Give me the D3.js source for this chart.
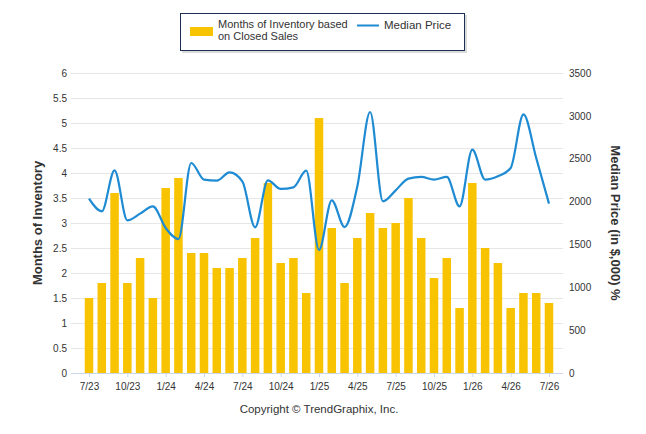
<!DOCTYPE html>
<html><head><meta charset="utf-8">
<script src="https://cdn.jsdelivr.net/npm/d3@7"></script>
<style>body{margin:0;background:#fff}svg{display:block}</style>
</head><body><div id="c"></div>
<script>
const months = ["7/23","8/23","9/23","10/23","11/23","12/23","1/24","2/24","3/24","4/24","5/24","6/24","7/24","8/24","9/24","10/24","11/24","12/24","1/25","2/25","3/25","4/25","5/25","6/25","7/25","8/25","9/25","10/25","11/25","12/25","1/26","2/26","3/26","4/26","5/26","6/26","7/26"];
const inventory = [1.5,1.8,3.6,1.8,2.3,1.5,3.7,3.9,2.4,2.4,2.1,2.1,2.3,2.7,3.8,2.2,2.3,1.6,5.1,2.9,1.8,2.7,3.2,2.9,3.0,3.5,2.7,1.9,2.3,1.3,3.8,2.5,2.2,1.3,1.6,1.6,1.4];
const medianPrice = [2034,1886,2364,1781,1859,1944,1692,1563,2450,2256,2244,2341,2236,1700,2248,2147,2166,2360,1435,2014,1703,2178,3045,2003,2131,2268,2287,2256,2287,1944,2606,2256,2295,2392,3018,2508,1976];
const leftTicks = [0,0.5,1,1.5,2,2.5,3,3.5,4,4.5,5,5.5,6];
const rightTicks = [0,500,1000,1500,2000,2500,3000,3500];
const xTickLabels = ["7/23","10/23","1/24","4/24","7/24","10/24","1/25","4/25","7/25","10/25","1/26","4/26","7/26"];

const W=646,H=434;
const svg=d3.select("#c").append("svg").attr("width",W).attr("height",H);
const plotL=71, plotR=563, plotTop=73, plotBottom=373;
const font="Tahoma, 'Liberation Sans', Arial, sans-serif";

const x=d3.scalePoint().domain(months).range([89,549]);
const yL=d3.scaleLinear().domain([0,6]).range([plotBottom,plotTop]);
const yR=d3.scaleLinear().domain([0,3500]).range([plotBottom,plotTop]);

// grid
svg.append("g").selectAll("line").data(leftTicks.slice(1)).join("line")
  .attr("x1",plotL).attr("x2",plotR).attr("y1",d=>yL(d)+0.5).attr("y2",d=>yL(d)+0.5)
  .attr("stroke","#e6e6e6").attr("stroke-width",1);

// bars
const bw=8.5;
svg.append("g").selectAll("rect").data(inventory).join("rect")
  .attr("x",(d,i)=>x(months[i])-bw/2).attr("width",bw)
  .attr("y",d=>yL(d)).attr("height",d=>plotBottom-yL(d))
  .attr("fill","#f8c300");

// x axis
svg.append("line").attr("x1",plotL).attr("x2",plotR).attr("y1",plotBottom+0.5).attr("y2",plotBottom+0.5).attr("stroke","#ccd6eb");
const xa=d3.axisBottom(x).tickValues(xTickLabels).tickSize(4).tickPadding(4);
const gx=svg.append("g").attr("transform",`translate(0,${plotBottom})`).call(xa);
gx.select(".domain").remove();
gx.selectAll("line").attr("stroke","#ccd6eb");
gx.selectAll("text").attr("font-family",font).attr("font-size",10).attr("fill","#333").attr("dy","0.9em");

// left axis
const ga=svg.append("g").attr("transform",`translate(${plotL},0)`).call(d3.axisLeft(yL).tickValues(leftTicks).tickSize(0).tickPadding(4).tickFormat(d=>d));
ga.select(".domain").remove();
ga.selectAll("text").attr("font-family",font).attr("font-size",10).attr("fill","#333");

// right axis
const gr=svg.append("g").attr("transform",`translate(${plotR},0)`).call(d3.axisRight(yR).tickValues(rightTicks).tickSize(0).tickPadding(6).tickFormat(d=>d));
gr.select(".domain").remove();
gr.selectAll("text").attr("font-family",font).attr("font-size",10).attr("fill","#333");

// line
const line=d3.line().x((d,i)=>x(months[i])).y(d=>yR(d)).curve(d3.curveMonotoneX);
svg.append("path").datum(medianPrice).attr("d",line).attr("fill","none")
  .attr("stroke","#1e8bd3").attr("stroke-width",2.2).attr("stroke-linejoin","round");

// axis titles
svg.append("text").attr("transform","translate(42,223) rotate(-90)").attr("text-anchor","middle")
  .attr("font-family",font).attr("font-size",13).attr("font-weight","bold").attr("fill","#333").text("Months of Inventory");
svg.append("text").attr("transform","translate(611,223) rotate(90)").attr("text-anchor","middle")
  .attr("font-family",font).attr("font-size",13).attr("font-weight","bold").attr("fill","#333").text("Median Price (in $,000) %");

// legend
const lg=svg.append("g");
lg.append("rect").attr("x",182).attr("y",15).attr("width",285).attr("height",38).attr("fill","#999").attr("opacity",0.35);
lg.append("rect").attr("x",180.5).attr("y",13.5).attr("width",284).attr("height",37).attr("fill","#fff").attr("stroke","#1c2e52").attr("stroke-width",1);
lg.append("rect").attr("x",190).attr("y",27).attr("width",23).attr("height",9).attr("fill","#f8c300");
lg.append("text").attr("x",218).attr("y",28).attr("font-family",font).attr("font-size",11).attr("fill","#333").text("Months of Inventory based");
lg.append("text").attr("x",218).attr("y",40).attr("font-family",font).attr("font-size",11).attr("fill","#333").text("on Closed Sales");
lg.append("line").attr("x1",357).attr("x2",379).attr("y1",25.5).attr("y2",25.5).attr("stroke","#1e8bd3").attr("stroke-width",2);
lg.append("text").attr("x",384).attr("y",29).attr("font-family",font).attr("font-size",11.5).attr("fill","#333").text("Median Price");

// credit
svg.append("text").attr("x",319).attr("y",413).attr("text-anchor","middle").attr("font-family",font)
  .attr("font-size",11.5).attr("fill","#333").text("Copyright \u00A9 TrendGraphix, Inc.");
</script></body></html>
